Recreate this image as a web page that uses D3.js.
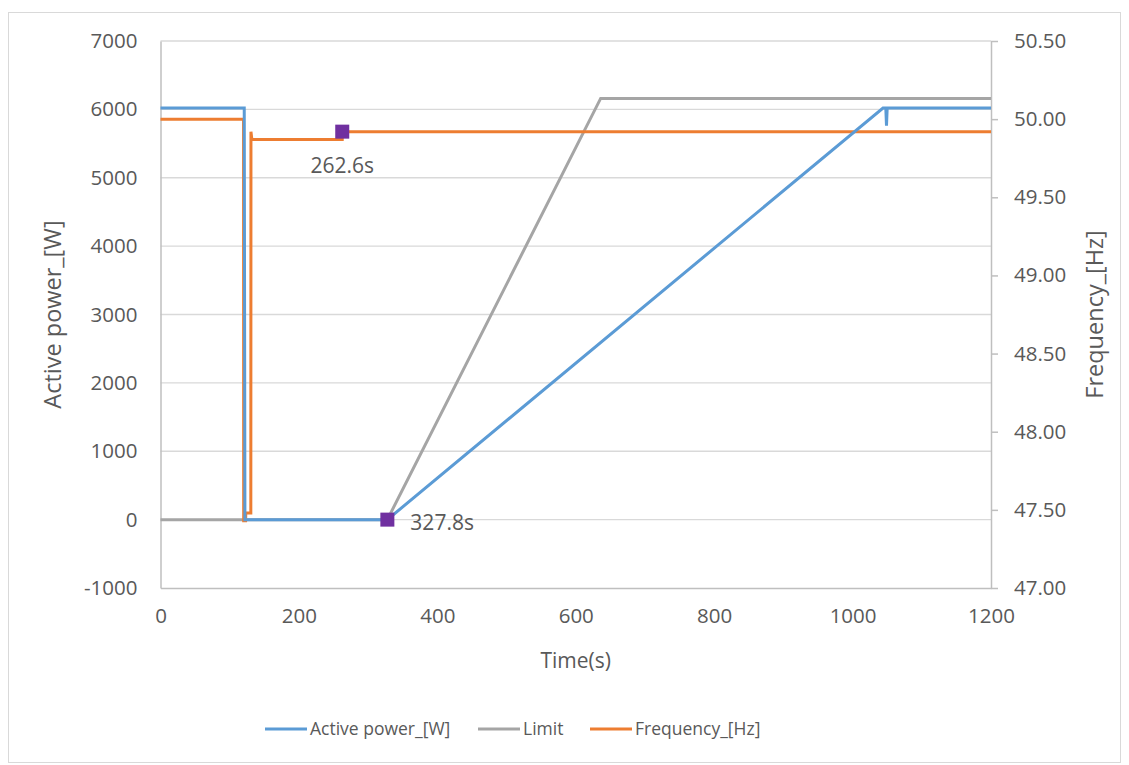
<!DOCTYPE html>
<html>
<head>
<meta charset="utf-8">
<script src="https://cdn.jsdelivr.net/npm/d3@7"></script>
<style>
  body { margin: 0; background: #fff; }
  text { font-family: 'Open Sans', sans-serif; fill: #595959; }
</style>
</head>
<body>
<div id="chart"></div>
<script>
// series
const powerTime = [0, 121, 122, 327.8, 1044, 1048, 1049, 1050, 1200]
const powerValue = [6020, 6020, 0, 0, 6020, 6020, 5760, 6020, 6020]

const limitTime = [0, 327.8, 636, 1200]
const limitValue = [0, 0, 6160, 6160]

const freqTime = [0, 120, 120.2, 123, 123.2, 130.5, 130.7, 132, 262.6, 262.8, 1200]
const freqValue = [50.0, 50.0, 47.43, 47.43, 47.48, 47.48, 49.92, 49.87, 49.87, 49.92, 49.92]

const markerTime = [262.6, 327.8]
const markerValue = [49.92, 0]
const markerAxis = ['right', 'left']
const markerText = ['262.6s', '327.8s']

const xTicks = [0, 200, 400, 600, 800, 1000, 1200]
const leftTicks = [-1000, 0, 1000, 2000, 3000, 4000, 5000, 6000, 7000]
const rightTicks = [47.0, 47.5, 48.0, 48.5, 49.0, 49.5, 50.0, 50.5]

const seriesNames = ['Active power_[W]', 'Limit', 'Frequency_[Hz]']
const seriesColors = ['#5b9bd5', '#a5a5a5', '#ed7d31']

let margin = { top: 41, left: 160.5, right: 138, bottom: 177 }
let width = 1129 - margin.left - margin.right
let height = 765 - margin.top - margin.bottom

let root = d3.select('#chart')
  .append('svg')
  .attr('width', 1129)
  .attr('height', 765)

// outer chart frame
root.append('rect')
  .attr('x', 8.5).attr('y', 12.5)
  .attr('width', 1112).attr('height', 750)
  .attr('fill', 'none')
  .attr('stroke', '#d9d9d9')

let svg = root.append('g')
  .attr('transform', 'translate(' + margin.left + ',' + margin.top + ')')

let xScale = d3.scaleLinear().domain([0, 1200]).range([0, width])
let yLeft = d3.scaleLinear().domain([-1000, 7000]).range([height, 0])
let yRight = d3.scaleLinear().domain([47, 50.5]).range([height, 0])

let plain = d => String(d)

// gridlines
svg.append('g')
  .selectAll('line')
  .data(leftTicks.slice(1))
  .enter()
  .append('line')
  .attr('x1', 0).attr('x2', width)
  .attr('y1', d => yLeft(d)).attr('y2', d => yLeft(d))
  .attr('stroke', '#d9d9d9')
  .attr('stroke-width', 1.3)

// left axis
let leftAxis = svg.append('g')
  .call(d3.axisLeft(yLeft).tickValues(leftTicks).tickFormat(plain).tickSize(0).tickPadding(23))
leftAxis.select('.domain').attr('stroke', '#bfbfbf').attr('stroke-width', 1.5)
leftAxis.selectAll('text').attr('font-size', 20.5).attr('fill', '#595959')
  .attr('font-family', 'Open Sans')

// bottom axis
let bottomAxis = svg.append('g')
  .attr('transform', 'translate(0,' + height + ')')
  .call(d3.axisBottom(xScale).tickValues(xTicks).tickFormat(plain).tickSize(0).tickPadding(20))
bottomAxis.select('.domain').attr('stroke', '#bfbfbf').attr('stroke-width', 1.5)
bottomAxis.selectAll('text').attr('font-size', 20.5).attr('fill', '#595959')
  .attr('font-family', 'Open Sans')

// right axis
let rightAxis = svg.append('g')
  .attr('transform', 'translate(' + width + ',0)')
  .call(d3.axisRight(yRight).tickValues(rightTicks).tickSize(7).tickSizeOuter(0)
    .tickPadding(16).tickFormat(d3.format('.2f')))
rightAxis.select('.domain').attr('stroke', '#bfbfbf').attr('stroke-width', 1.5)
rightAxis.selectAll('.tick line').attr('stroke', '#bfbfbf').attr('stroke-width', 1.5)
rightAxis.selectAll('text').attr('font-size', 20.5).attr('fill', '#595959')
  .attr('font-family', 'Open Sans')

// axis titles
svg.append('text')
  .attr('transform', `translate(${-100}, ${height / 2}) rotate(-90)`)
  .attr('text-anchor', 'middle')
  .attr('font-size', 23.5)
  .text('Active power_[W]')

svg.append('text')
  .attr('transform', `translate(${width + 112}, ${height / 2}) rotate(-90)`)
  .attr('text-anchor', 'middle')
  .attr('font-size', 23.5)
  .text('Frequency_[Hz]')

svg.append('text')
  .attr('x', xScale(600))
  .attr('y', height + 80)
  .attr('text-anchor', 'middle')
  .attr('font-size', 21)
  .text('Time(s)')

// series lines
let lineLeft = d3.line().x(d => xScale(d[0])).y(d => yLeft(d[1]))
let lineRight = d3.line().x(d => xScale(d[0])).y(d => yRight(d[1]))

let limitData = d3.zip(limitTime, limitValue)
let powerData = d3.zip(powerTime, powerValue)
let freqData = d3.zip(freqTime, freqValue)

svg.append('path')
  .datum(limitData)
  .attr('d', lineLeft)
  .attr('fill', 'none')
  .attr('stroke', seriesColors[1])
  .attr('stroke-width', 3)

svg.append('path')
  .datum(freqData)
  .attr('d', lineRight)
  .attr('fill', 'none')
  .attr('stroke', seriesColors[2])
  .attr('stroke-width', 3)

svg.append('path')
  .datum(powerData)
  .attr('d', lineLeft)
  .attr('fill', 'none')
  .attr('stroke', seriesColors[0])
  .attr('stroke-width', 3)

// purple markers with labels
let markers = markerTime.map((t, i) => ({
  t: t, v: markerValue[i], axis: markerAxis[i], label: markerText[i]
}))

svg.selectAll('.marker')
  .data(markers)
  .enter()
  .append('g')
  .attr('class', 'marker')
  .attr('transform', d => {
    let y = d.axis === 'right' ? yRight(d.v) : yLeft(d.v)
    return `translate(${xScale(d.t)}, ${y})`
  })
  .each(function(d) {
    let g = d3.select(this)
    g.append('rect')
      .attr('x', -7).attr('y', -7)
      .attr('width', 14).attr('height', 14)
      .attr('fill', '#7030a0')
    g.append('text')
      .attr('font-size', 21)
      .attr('x', d.axis === 'right' ? 0 : 23)
      .attr('y', d.axis === 'right' ? 41 : 10)
      .attr('text-anchor', d.axis === 'right' ? 'middle' : 'start')
      .text(d.label)
  })

// legend
let legendX = [265, 478, 590]
let legend = root.append('g')
  .selectAll('g')
  .data(seriesNames)
  .enter()
  .append('g')
  .attr('transform', (d, i) => `translate(${legendX[i]}, 729)`)

legend.append('line')
  .attr('x1', 0).attr('x2', 42)
  .attr('stroke', (d, i) => seriesColors[i])
  .attr('stroke-width', 3)

legend.append('text')
  .attr('x', 45)
  .attr('dy', '0.35em')
  .attr('font-size', 17.5)
  .text(d => d)
</script>
</body>
</html>
